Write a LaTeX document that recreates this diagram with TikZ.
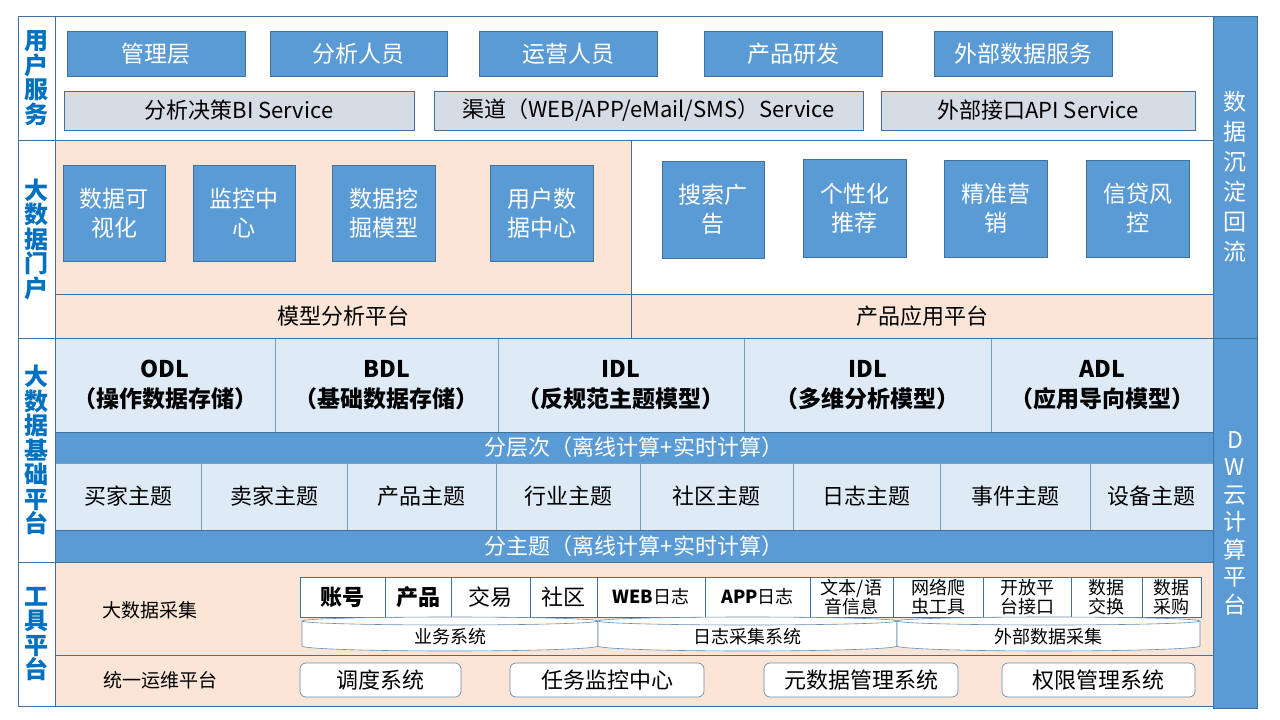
\documentclass[tikz,border=0pt]{standalone}
\usepackage{fontspec}
\setmainfont{Noto Sans CJK SC}
\definecolor{lanse}{HTML}{5B9BD5}
\definecolor{bianxian}{HTML}{41719C}
\definecolor{huise}{HTML}{D6DCE5}
\definecolor{fenhong}{HTML}{FBE5D6}
\definecolor{qianlan}{HTML}{DEEBF7}
\definecolor{biaoti}{HTML}{0070C0}
\begin{document}
\begin{tikzpicture}[x=1pt,y=-1pt,
  every node/.style={inner sep=0pt,align=center},
  kuangxian/.style={draw=bianxian,line width=0.9pt},
  lbl/.style={kuangxian,fill=white,text=biaoti,font=\bfseries\fontsize{24}{24.5}\selectfont},
  youlan/.style={kuangxian,fill=lanse,text=white,font=\fontsize{23}{30}\selectfont},
  lanbox/.style={kuangxian,fill=lanse,text=white,font=\fontsize{23}{29}\selectfont},
  huibox/.style={kuangxian,fill=huise,font=\fontsize{22}{25}\selectfont},
  tiao/.style={kuangxian,fill=fenhong,font=\fontsize{22}{25}\selectfont},
  cengbox/.style={draw=bianxian!70,line width=0.6pt,fill=qianlan,font=\bfseries\fontsize{23}{30}\selectfont},
  zhuti/.style={draw=bianxian!70,line width=0.6pt,fill=qianlan,font=\fontsize{22}{25}\selectfont},
  lantiao/.style={kuangxian,fill=lanse,text=white,font=\fontsize{22}{25}\selectfont},
  gezi/.style={draw=bianxian,line width=0.6pt,fill=white,font=\fontsize{22}{19}\selectfont},
  xiaogezi/.style={gezi,font=\fontsize{18}{19}\selectfont},
  tongxian/.style={draw=bianxian!80,line width=0.6pt,fill=white},
  yuanjiao/.style={draw=bianxian!80,line width=0.7pt,fill=white,rounded corners=6pt,font=\fontsize{22}{25}\selectfont}]
\newcommand\kuang[7]{
\node[#1,minimum width={#5-#3},minimum height={#6-#4}] (#2) at ({(#3+#5)/2},{(#4+#6)/2}) {#7};
}
\newcommand\tong[4]{
\draw[tongxian] (#2,621) -- (#2,646) arc[start angle=180,end angle=0,x radius={(#3-#2)/2},y radius=5] -- (#3,621);
\draw[tongxian] ({(#2+#3)/2},621) ellipse[x radius={(#3-#2)/2},y radius=4];
\node[font=\fontsize{18}{20}\selectfont] (#1) at ({(#2+#3)/2},637) {#4};
}
\useasboundingbox[fill=white] (0,0) rectangle (1280,720);
% 背景
\draw[kuangxian] (55,16) rectangle (1213,140);
\draw[kuangxian,fill=fenhong] (55,140) rectangle (631,294);
\draw[kuangxian] (631,140) rectangle (1213,294);
\fill[qianlan] (55,338) rectangle (1213,562);
\draw[kuangxian,fill=fenhong] (55,562) rectangle (1213,655);
\draw[kuangxian,fill=fenhong] (55,655) rectangle (1213,706);
% 左侧标题
\kuang{lbl}{L1}{18}{16}{55}{140}{用\\户\\服\\务}
\kuang{lbl}{L2}{18}{140}{55}{338}{大\\数\\据\\门\\户}
\kuang{lbl}{L3}{18}{338}{55}{562}{大\\数\\据\\基\\础\\平\\台}
\kuang{lbl}{L4}{18}{562}{55}{706}{工\\具\\平\\台}
% 右侧
\kuang{youlan}{R1}{1213}{16}{1257}{338}{数\\据\\沉\\淀\\回\\流}
\kuang{youlan,font=\fontsize{23}{27.5}\selectfont}{R2}{1213}{338}{1257}{708}{D\\W\\云\\计\\算\\平\\台}
% 用户服务
\kuang{lanbox}{u1}{67}{31}{245}{76}{管理层}
\kuang{lanbox}{u2}{270}{31}{447}{76}{分析人员}
\kuang{lanbox}{u3}{479}{31}{657}{76}{运营人员}
\kuang{lanbox}{u4}{704}{31}{882}{76}{产品研发}
\kuang{lanbox}{u5}{934}{31}{1112}{76}{外部数据服务}
\kuang{huibox}{s1}{64}{91}{414}{130}{分析决策BI Service}
\kuang{huibox}{s2}{434}{91}{863}{130}{渠道（WEB/APP/eMail/SMS）Service}
\kuang{huibox}{s3}{881}{91}{1195}{130}{外部接口API Service}
% 大数据门户
\kuang{lanbox}{m1}{63}{165}{165}{261}{数据可\\视化}
\kuang{lanbox}{m2}{193}{165}{295}{261}{监控中\\心}
\kuang{lanbox}{m3}{332}{165}{435}{261}{数据挖\\掘模型}
\kuang{lanbox}{m4}{490}{165}{593}{261}{用户数\\据中心}
\kuang{lanbox}{p1}{662}{161}{764}{258}{搜索广\\告}
\kuang{lanbox}{p2}{803}{159}{906}{257}{个性化\\推荐}
\kuang{lanbox}{p3}{944}{160}{1047}{257}{精准营\\销}
\kuang{lanbox}{p4}{1086}{160}{1189}{257}{信贷风\\控}
\kuang{tiao}{mxpt}{55}{294}{631}{338}{模型分析平台}
\kuang{tiao}{cypt}{631}{294}{1213}{338}{产品应用平台}
% 大数据基础平台
\kuang{cengbox}{odl}{55}{338}{275}{432}{ODL\\（操作数据存储）}
\kuang{cengbox}{bdl}{275}{338}{498}{432}{BDL\\（基础数据存储）}
\kuang{cengbox}{idla}{498}{338}{744}{432}{IDL\\（反规范主题模型）}
\kuang{cengbox}{idlb}{744}{338}{991}{432}{IDL\\（多维分析模型）}
\kuang{cengbox}{adl}{991}{338}{1213}{432}{ADL\\（应用导向模型）}
\kuang{lantiao}{fcc}{55}{432}{1213}{463}{分层次（离线计算+实时计算）}
\kuang{zhuti}{z1}{55}{463}{201}{530}{买家主题}
\kuang{zhuti}{z2}{201}{463}{347}{530}{卖家主题}
\kuang{zhuti}{z3}{347}{463}{496}{530}{产品主题}
\kuang{zhuti}{z4}{496}{463}{640}{530}{行业主题}
\kuang{zhuti}{z5}{640}{463}{793}{530}{社区主题}
\kuang{zhuti}{z6}{793}{463}{940}{530}{日志主题}
\kuang{zhuti}{z7}{940}{463}{1090}{530}{事件主题}
\kuang{zhuti}{z8}{1090}{463}{1213}{530}{设备主题}
\kuang{lantiao}{fzt}{55}{530}{1213}{562}{分主题（离线计算+实时计算）}
\draw[kuangxian] (55,338) rectangle (1213,562);
% 工具平台
\node[font=\fontsize{19}{22}\selectfont] (dsjcj) at (150,610) {大数据采集};
\node[font=\fontsize{19}{22}\selectfont] (ywpt) at (160,680) {统一运维平台};
\kuang{gezi,font=\bfseries\fontsize{22}{19}\selectfont}{c1}{300}{577}{385}{617}{账号}
\kuang{gezi,font=\bfseries\fontsize{22}{19}\selectfont}{c2}{385}{577}{451}{617}{产品}
\kuang{gezi}{c3}{451}{577}{530}{617}{交易}
\kuang{gezi}{c4}{530}{577}{597}{617}{社区}
\kuang{xiaogezi}{c5}{597}{577}{705}{617}{{\bfseries WEB}日志}
\kuang{xiaogezi}{c6}{705}{577}{810}{617}{{\bfseries APP}日志}
\kuang{xiaogezi}{c7}{810}{577}{893}{617}{文本/语\\音信息}
\kuang{xiaogezi}{c8}{893}{577}{983}{617}{网络爬\\虫工具}
\kuang{xiaogezi}{c9}{983}{577}{1071}{617}{开放平\\台接口}
\kuang{xiaogezi}{c10}{1071}{577}{1142}{617}{数据\\交换}
\kuang{xiaogezi}{c11}{1142}{577}{1201}{617}{数据\\采购}
\tong{ywxt}{302}{598}{业务系统}
\tong{rzcj}{598}{897}{日志采集系统}
\tong{wbcj}{897}{1200}{外部数据采集}
\kuang{yuanjiao}{r1}{300}{663}{461}{697}{调度系统}
\kuang{yuanjiao}{r2}{510}{663}{704}{697}{任务监控中心}
\kuang{yuanjiao}{r3}{764}{663}{958}{697}{元数据管理系统}
\kuang{yuanjiao}{r4}{1002}{663}{1195}{697}{权限管理系统}
\end{tikzpicture}
\end{document}
